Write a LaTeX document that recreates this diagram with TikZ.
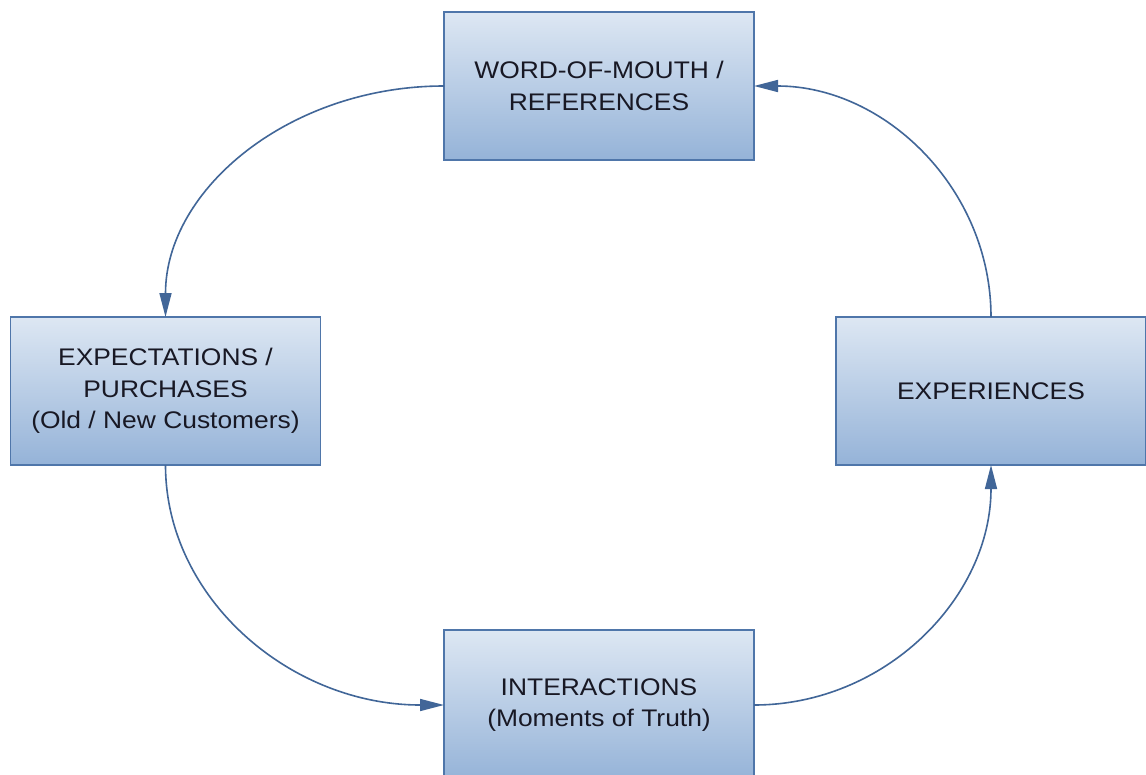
\documentclass[tikz,border=0pt]{standalone}
\usepackage{fontspec}
\setmainfont{Liberation Sans}[FakeStretch=1.1]
\usetikzlibrary{arrows.meta}
\definecolor{boxtop}{HTML}{DDE7F3}
\definecolor{boxbottom}{HTML}{95B3D8}
\definecolor{boxline}{HTML}{4F76AA}
\definecolor{flow}{HTML}{416698}
\definecolor{labeltext}{HTML}{181824}
\begin{document}
\begin{tikzpicture}[x=1pt,y=-1pt,
  stage/.style={rectangle, draw=boxline, line width=1.8pt,
    top color=boxtop, bottom color=boxbottom,
    minimum width=310pt, minimum height=148pt, inner sep=0pt, outer sep=0pt,
    align=center, text=labeltext,
    font=\fontsize{24}{31.5}\selectfont},
  cycle/.style={draw=flow, line width=1.6pt,
    -{Triangle[length=24pt,width=12pt]}}]
\useasboundingbox (0,0) rectangle (1146,774);
\fill[white] (0,0) rectangle (1146,774);
\begin{scope}
\clip (0,0) rectangle (1146,774);
\node[stage] (wom) at (599,86) {WORD-OF-MOUTH /\\REFERENCES};
\node[stage] (exp) at (165.5,391) {EXPECTATIONS /\\PURCHASES\\(Old / New Customers)};
\node[stage] (xpr) at (991,391) {EXPERIENCES};
\node[stage, minimum height=150pt] (int) at (599,705) {INTERACTIONS\\(Moments of Truth)};

\draw[cycle] (wom.west) .. controls +(-154,0) and +(0,-128) .. (exp.north);
\draw[cycle] (exp.south) .. controls +(0,133) and +(-154,0) .. (int.west);
\draw[cycle] (int.east) .. controls +(131,0) and +(0,133) .. (xpr.south);
\draw[cycle] (xpr.north) .. controls +(0,-128) and +(131,0) .. (wom.east);
\end{scope}
\end{tikzpicture}
\end{document}
